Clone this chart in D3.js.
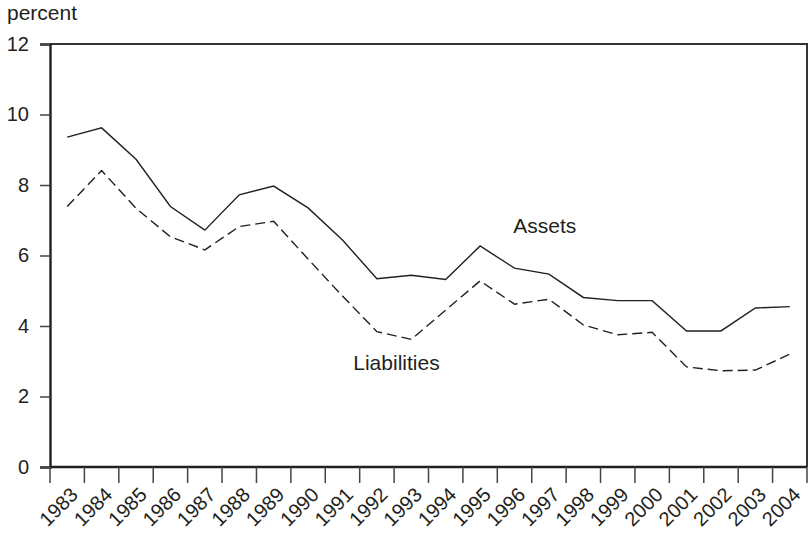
<!DOCTYPE html>
<html>
<head>
<meta charset="utf-8">
<script src="https://cdn.jsdelivr.net/npm/d3@7"></script>
<style>
  body { margin: 0; background: #fff; }
  text { font-family: "Liberation Sans", Arial, sans-serif; fill: #231f20; }
</style>
</head>
<body>
<svg id="chart" width="808" height="534"></svg>
<script>
// data
const years = [1983, 1984, 1985, 1986, 1987, 1988, 1989, 1990, 1991, 1992, 1993,
               1994, 1995, 1996, 1997, 1998, 1999, 2000, 2001, 2002, 2003, 2004];
const assets = [9.36, 9.62, 8.73, 7.39, 6.72, 7.72, 7.97, 7.35, 6.44, 5.34, 5.44,
                5.32, 6.27, 5.64, 5.47, 4.81, 4.72, 4.72, 3.86, 3.86, 4.51, 4.55];
const liabilities = [7.39, 8.41, 7.34, 6.53, 6.16, 6.82, 6.97, 5.9, 4.85, 3.84, 3.62,
                     4.45, 5.28, 4.62, 4.76, 4.03, 3.75, 3.82, 2.84, 2.73, 2.75, 3.2];
const yTicks = [0, 2, 4, 6, 8, 10, 12];

const svg = d3.select("#chart");
const margin = {top: 44, right: 1, bottom: 67, left: 50};
const width = 808 - margin.left - margin.right;
const height = 534 - margin.top - margin.bottom;

const g = svg.append("g").attr("transform", `translate(${margin.left},${margin.top})`);

const x = d3.scaleBand().domain(years).range([0, width]).padding(0);
const y = d3.scaleLinear().domain([0, 12]).range([height, 0]);

// frame (top + right)
g.append("path")
  .attr("d", `M0,0H${width}V${height}`)
  .attr("fill", "none")
  .attr("stroke", "#333")
  .attr("stroke-width", 2);

// y axis
const yAxis = g.append("g")
  .call(d3.axisLeft(y).tickValues(yTicks).tickSize(10).tickPadding(11).tickFormat(d3.format("d")));
yAxis.select(".domain").attr("stroke", "#231f20").attr("stroke-width", 2.4);
yAxis.selectAll(".tick line").attr("stroke", "#444").attr("stroke-width", 1.5);
yAxis.selectAll("text").style("font-size", "20px").attr("fill", "#231f20");

// x axis: ticks at band edges, labels at band centres
const edges = years.map(d => x(d)).concat([x(years[years.length - 1]) + x.bandwidth()]);
const xAxis = g.append("g").attr("transform", `translate(0,${height})`);
xAxis.append("line")
  .attr("x1", 0).attr("x2", width)
  .attr("stroke", "#231f20").attr("stroke-width", 2.4);
xAxis.selectAll(".edge")
  .data(edges)
  .enter().append("line")
  .attr("class", "edge")
  .attr("x1", d => d).attr("x2", d => d)
  .attr("y1", 0).attr("y2", 16)
  .attr("stroke", "#444").attr("stroke-width", 1.5);
xAxis.selectAll(".lbl")
  .data(years)
  .enter().append("text")
  .attr("class", "lbl")
  .attr("text-anchor", "end")
  .style("font-size", "20px")
  .attr("transform", d => `translate(${x(d) + x.bandwidth() / 2 + 12},${29}) rotate(-45)`)
  .text(d => d);

// lines
const line = d3.line()
  .x((d, i) => x(years[i]) + x.bandwidth() / 2)
  .y(d => y(d));

g.append("path")
  .datum(assets)
  .attr("fill", "none")
  .attr("stroke", "#231f20")
  .attr("stroke-width", 1.4)
  .attr("d", line);

g.append("path")
  .datum(liabilities)
  .attr("fill", "none")
  .attr("stroke", "#231f20")
  .attr("stroke-width", 1.4)
  .attr("stroke-dasharray", "10 5")
  .attr("d", line);

// annotations
g.append("text")
  .attr("x", x(1996) + 16).attr("y", y(6.65))
  .style("font-size", "21px")
  .text("Assets");

g.append("text")
  .attr("x", x(1991) + 28).attr("y", y(2.75))
  .style("font-size", "21px")
  .text("Liabilities");

svg.append("text")
  .attr("x", 7).attr("y", 20)
  .style("font-size", "21px")
  .text("percent");
</script>
</body>
</html>
